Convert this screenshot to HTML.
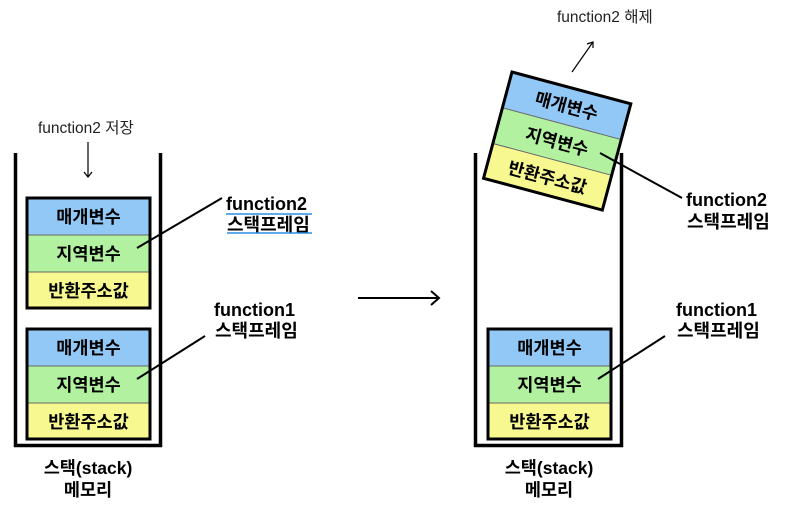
<!DOCTYPE html>
<html><head><meta charset="utf-8"><style>
body{margin:0;background:#fff;}
svg{display:block;}
text{font-family:"Liberation Sans","Noto Sans CJK KR",sans-serif;}
.b{font-weight:bold;font-size:18px;fill:#000;}
.c{font-weight:bold;font-size:17.5px;text-anchor:middle;}
.s{font-size:15.5px;fill:#222;}
</style></head><body>
<svg width="785" height="511" viewBox="0 0 785 511" xmlns="http://www.w3.org/2000/svg">
<defs>
<g id="frame">
<rect x="0" y="0" width="123" height="37" fill="#92c8f6"/>
<rect x="0" y="37" width="123" height="37" fill="#b1f1a0"/>
<rect x="0" y="74" width="123" height="36" fill="#f8f890"/>
<line x1="0" y1="37" x2="123" y2="37" stroke="#666" stroke-width="1"/>
<line x1="0" y1="74" x2="123" y2="74" stroke="#666" stroke-width="1"/>
<rect x="0" y="0" width="123" height="110" fill="none" stroke="#000" stroke-width="3"/>
<text class="c" x="61.5" y="25">매개변수</text>
<text class="c" x="61.5" y="62">지역변수</text>
<text class="c" x="61.5" y="99">반환주소값</text>
</g>
</defs>
<path d="M15.5 153 V445.5 H160.5 V153" fill="none" stroke="#000" stroke-width="3.5"/>
<use href="#frame" x="27" y="198"/>
<use href="#frame" x="27" y="329"/>
<text class="s" x="38" y="133">function2 저장</text>
<line x1="88" y1="142" x2="88" y2="177" stroke="#000" stroke-width="1.2"/>
<path d="M84 172 L88 177 L92 172" fill="none" stroke="#000" stroke-width="1.2"/>
<line x1="137" y1="248" x2="222" y2="198" stroke="#000" stroke-width="2"/>
<line x1="137" y1="379" x2="205" y2="336" stroke="#000" stroke-width="2"/>
<text class="b" x="226" y="210">function2</text>
<text class="b" x="227" y="231">스택프레임</text>
<line x1="226" y1="214" x2="312" y2="214" stroke="#2a8ee0" stroke-width="1.5"/>
<line x1="227" y1="233" x2="312" y2="233" stroke="#2a8ee0" stroke-width="1.5"/>
<text class="b" x="214" y="316">function1</text>
<text class="b" x="215" y="337">스택프레임</text>
<text class="c" x="88" y="474">스택(stack)</text>
<text class="c" x="88" y="496">메모리</text>
<line x1="358" y1="298" x2="439" y2="298" stroke="#000" stroke-width="2"/>
<path d="M431 291 L439 298 L431 305" fill="none" stroke="#000" stroke-width="2"/>
<path d="M475.5 153 V445.5 H621.5 V153" fill="none" stroke="#000" stroke-width="3.5"/>
<use href="#frame" x="488" y="329"/>
<line x1="598" y1="379" x2="665" y2="336" stroke="#000" stroke-width="2"/>
<text class="b" x="676" y="316">function1</text>
<text class="b" x="677" y="337">스택프레임</text>
<text class="c" x="549" y="474">스택(stack)</text>
<text class="c" x="549" y="496">메모리</text>
<g transform="translate(512,72) rotate(15)">
<use href="#frame" x="0" y="0"/>
</g>
<line x1="600" y1="153" x2="682" y2="198" stroke="#000" stroke-width="2"/>
<text class="b" x="686" y="206">function2</text>
<text class="b" x="687" y="228">스택프레임</text>
<line x1="572" y1="72" x2="593" y2="42" stroke="#000" stroke-width="1.2"/>
<path d="M587 44 L593 42 L593 48" fill="none" stroke="#000" stroke-width="1.2"/>
<text class="s" x="557" y="22">function2 해제</text>
</svg>
</body></html>
